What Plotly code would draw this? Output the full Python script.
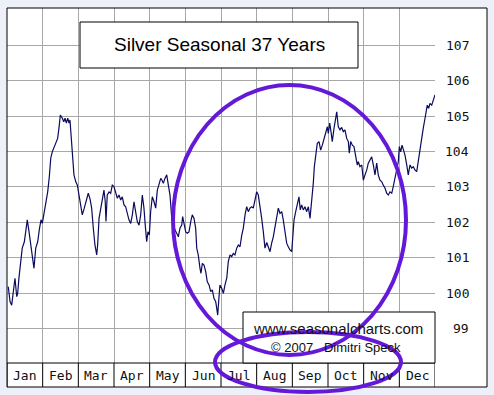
import plotly.graph_objects as go

# ---------------- data ----------------
months = ["Jan", "Feb", "Mar", "Apr", "May", "Jun",
          "Jul", "Aug", "Sep", "Oct", "Nov", "Dec"]
y_ticks = [99, 100, 101, 102, 103, 104, 105, 106, 107]

day = [1.1, 2.6, 4.0, 5.4, 6.8, 8.3, 9.1, 10.2, 11.9, 13.0, 14.8, 15.9, 17.3, 18.8, 20.2, 21.6,
       23.0, 24.5, 26.2, 27.5, 29.0, 30.1, 31.8, 33.3, 34.7, 36.1, 37.3, 38.6, 40.3, 41.5, 43.2,
       44.3, 45.5, 47.2, 48.4, 49.5, 50.6, 51.8, 52.9, 53.7, 55.2, 56.0, 57.1, 58.6, 60.0, 61.4,
       62.9, 64.2, 65.9, 68.0, 69.3, 70.8, 72.2, 73.6, 75.0, 76.5, 77.3, 78.5, 79.9, 81.3, 82.7,
       83.8, 84.4, 85.5, 87.0, 88.4, 89.8, 91.2, 92.7, 94.1, 95.5, 97.0, 98.3, 99.8, 101.2, 102.6,
       104.0, 105.5, 106.9, 108.3, 109.8, 111.1, 112.6, 114.0, 115.4, 116.8, 117.9, 119.1, 120.2,
       121.4, 122.5, 123.9, 125.4, 126.8, 128.2, 129.6, 131.1, 132.2, 133.3, 134.7, 136.2, 137.6,
       139.0, 140.5, 141.8, 143.3, 144.7, 146.1, 147.5, 149.0, 149.8, 150.9, 152.4, 153.8, 155.2,
       156.7, 158.0, 159.5, 160.9, 161.8, 163.1, 164.6, 165.4, 166.6, 168.0, 169.5, 170.8, 172.3,
       173.7, 175.1, 176.5, 178.0, 178.8, 179.7, 180.5, 181.6, 183.1, 184.5, 185.9, 187.4, 188.7,
       190.2, 191.6, 193.0, 194.4, 195.9, 197.3, 198.7, 200.2, 201.5, 203.0, 204.4, 205.8, 207.2,
       208.7, 210.0, 211.5, 212.9, 214.3, 215.8, 217.2, 218.6, 220.0, 221.5, 222.8, 224.3, 225.7,
       227.1, 228.6, 230.0, 231.4, 232.8, 234.3, 235.6, 237.1, 238.5, 239.9, 241.3, 242.8, 243.6,
       244.8, 246.2, 247.6, 249.0, 250.1, 251.3, 252.7, 254.1, 255.6, 257.0, 258.4, 259.3, 260.4,
       261.2, 262.1, 263.3, 264.6, 266.1, 267.5, 268.9, 270.3, 271.8, 273.2, 274.0, 275.2, 276.3,
       277.4, 278.9, 280.3, 281.2, 282.5, 284.0, 285.4, 286.8, 288.2, 289.7, 291.1, 291.9, 293.1,
       294.5, 295.9, 297.4, 298.7, 299.6, 301.0, 302.5, 303.9, 305.3, 306.8, 308.1, 309.6, 311.0,
       312.4, 313.8, 315.3, 316.6, 318.1, 319.5, 320.9, 322.4, 323.8, 325.2, 326.6, 328.1, 329.4,
       330.9, 332.3, 333.7, 334.6, 335.7, 336.9, 338.0, 339.4, 340.9, 342.2, 343.7, 345.1, 346.5,
       347.9, 349.4, 350.8, 352.2, 353.7, 355.0, 356.5, 357.3, 358.4, 359.6, 360.7, 362.2, 363.6,
       365.0]

value = [100.18, 99.76, 99.66, 100.09, 100.42, 99.90, 99.99, 100.43, 100.89, 101.27, 101.45,
         101.73, 102.07, 101.73, 101.36, 100.98, 100.70, 101.27, 101.45, 101.78, 102.07, 101.97,
         102.30, 102.54, 102.86, 103.29, 103.81, 103.99, 104.14, 104.23, 104.37, 104.66, 105.03,
         104.94, 104.84, 104.94, 104.80, 104.94, 104.80, 104.89, 104.28, 103.81, 103.34, 103.15,
         103.05, 102.77, 102.40, 102.21, 102.40, 102.68, 102.82, 102.66, 102.40, 101.83, 101.36,
         101.08, 101.36, 102.11, 102.40, 102.68, 102.91, 102.58, 102.02, 102.77, 102.86, 102.82,
         103.05, 103.01, 102.86, 102.68, 102.77, 102.63, 102.72, 102.49, 102.44, 102.25, 102.07,
         101.97, 102.21, 102.58, 102.30, 102.02, 101.92, 102.21, 102.77, 102.40, 101.92, 101.45,
         101.73, 101.64, 102.30, 102.72, 102.58, 102.40, 102.91, 103.05, 103.24, 103.19, 103.10,
         103.24, 103.34, 103.05, 102.77, 102.11, 101.92, 101.78, 101.69, 101.59, 101.83, 101.92,
         102.16, 101.92, 101.73, 101.69, 101.73, 102.02, 102.21, 102.11, 101.83, 101.27, 101.08,
         100.70, 100.56, 100.84, 100.79, 100.60, 100.32, 100.23, 100.04, 100.09, 99.85, 99.76,
         99.57, 99.38, 99.76, 100.23, 100.14, 99.99, 100.23, 100.42, 100.89, 101.08, 101.03,
         101.12, 101.08, 101.27, 101.36, 101.31, 101.64, 101.83, 102.21, 102.44, 102.30, 102.40,
         102.44, 102.40, 102.63, 102.86, 102.77, 102.49, 102.11, 101.73, 101.27, 101.43, 101.33,
         101.17, 101.41, 101.59, 101.88, 102.16, 102.40, 102.25, 102.30, 102.07, 101.69, 101.41,
         101.31, 101.22, 101.17, 101.50, 102.07, 102.30, 102.54, 102.72, 102.35, 102.49, 102.35,
         102.44, 102.30, 102.44, 102.11, 102.40, 102.72, 103.10, 103.57, 103.95, 104.23, 104.28,
         104.04, 104.18, 104.37, 104.56, 104.70, 104.51, 104.80, 104.56, 104.28, 104.66, 104.98,
         105.12, 104.70, 104.61, 104.68, 104.56, 104.61, 104.37, 104.28, 103.95, 104.28, 104.18,
         104.14, 103.90, 103.62, 103.71, 103.57, 103.62, 103.19, 103.34, 103.48, 103.67, 103.76,
         103.85, 103.62, 103.34, 103.67, 103.34, 103.19, 103.15, 103.05, 102.96, 102.82, 102.77,
         102.86, 102.82, 103.01, 103.24, 103.43, 103.71, 104.14, 103.99, 104.18, 104.04, 103.90,
         103.62, 103.34, 103.62, 103.53, 103.57, 103.48, 103.43, 103.76, 104.04, 104.42, 104.66,
         104.94, 105.12, 105.31, 105.22, 105.36, 105.31, 105.45, 105.60]

title_text = "Silver Seasonal 37 Years"
site_text = "www.seasonalcharts.com"
copy_text = "\u00a9 2007\u00a0\u00a0\u00a0Dimitri Speck"

# ---------------- layout geometry (pixels) ----------------
W, H = 494, 395
L, R, T, B = 7, 435, 8, 363
FRAME_R, FRAME_B = 487, 387
YMIN, YMAX = 98.025, 108.054
MONTH = 365 / 12


def px(x):
    return (x - L) / (R - L)


def py(y):
    return (B - y) / (B - T)


fig = go.Figure(
    go.Scatter(x=day, y=value, mode="lines",
               line=dict(color="#0b0b5e", width=1.2),
               hoverinfo="skip")
)

fig.update_layout(
    width=W, height=H,
    margin=dict(l=L, r=W - R, t=T, b=H - B, pad=0, autoexpand=False),
    paper_bgcolor="#edf0f8",
    plot_bgcolor="white",
    showlegend=False,
)
fig.update_xaxes(range=[0, 365], tickvals=[i * MONTH for i in range(13)],
                 showticklabels=False, ticks="", showgrid=True,
                 gridcolor="#a8a8a8", gridwidth=1, zeroline=False, showline=False)
fig.update_yaxes(range=[YMIN, YMAX], tickvals=y_ticks, showticklabels=False, ticks="",
                 showgrid=True, gridcolor="#a8a8a8", gridwidth=1,
                 zeroline=False, showline=False)

shapes = []
# white backgrounds outside the plot area inside the frame
shapes.append(dict(type="rect", xref="paper", yref="paper", x0=1, x1=px(FRAME_R),
                   y0=py(FRAME_B), y1=1, fillcolor="white", line=dict(width=0), layer="below"))
shapes.append(dict(type="rect", xref="paper", yref="paper", x0=0, x1=1,
                   y0=py(FRAME_B), y1=0, fillcolor="white", line=dict(width=0), layer="below"))
# month label cells
for i in range(13):
    shapes.append(dict(type="line", xref="x", yref="paper", x0=i * MONTH, x1=i * MONTH,
                       y0=py(FRAME_B), y1=0, line=dict(color="black", width=1)))
shapes.append(dict(type="line", xref="paper", yref="paper", x0=0, x1=1, y0=0, y1=0,
                   line=dict(color="black", width=1)))
# outer frame
shapes.append(dict(type="rect", xref="paper", yref="paper", x0=0, x1=px(FRAME_R),
                   y0=py(FRAME_B), y1=1, line=dict(color="black", width=1)))
# title box
shapes.append(dict(type="rect", xref="paper", yref="paper", x0=px(80), x1=px(358),
                   y0=py(68), y1=py(22), fillcolor="white", line=dict(color="black", width=1)))
# copyright box
shapes.append(dict(type="rect", xref="paper", yref="paper", x0=px(243), x1=1,
                   y0=0, y1=py(312), fillcolor="white", line=dict(color="black", width=1)))
# purple hand-drawn ellipses
PURPLE = "#6419d8"
shapes.append(dict(type="circle", xref="paper", yref="paper", x0=px(173), x1=px(406),
                   y0=py(355), y1=py(85), line=dict(color=PURPLE, width=4)))
shapes.append(dict(type="circle", xref="paper", yref="paper", x0=px(215), x1=px(401),
                   y0=py(392), y1=py(332), line=dict(color=PURPLE, width=4)))
fig.update_layout(shapes=shapes)

MONO = "DejaVu Sans Mono, monospace"
SANS = "Liberation Sans, Arial, sans-serif"
ann = []


def label(text, x, y, font, xref="paper", yref="paper", xanchor="center"):
    ann.append(dict(text=text, xref=xref, yref=yref, x=x, y=y, xanchor=xanchor,
                    yanchor="middle", showarrow=False, font=font))


label(title_text, px(219), py(45), dict(family=SANS, size=19, color="black"))
label(site_text, px(338), py(328), dict(family=SANS, size=15, color="#111"))
label(copy_text, px(335.5), py(347), dict(family=SANS, size=13, color="#111"))
for i, m in enumerate(months):
    label(m, (i + 0.5) * MONTH, py(375.5), dict(family=MONO, size=13, color="#111"), xref="x")
for v in y_ticks:
    label(str(v), px(470.5), v, dict(family=MONO, size=13, color="#111"),
          yref="y", xanchor="right")
fig.update_layout(annotations=ann)

# the page is shown without the browser's default 8px body margin
fig.write_html("out.html",
               config={"displayModeBar": False, "staticPlot": True},
               post_script="document.body.style.margin='0';document.body.style.overflow='hidden';")
